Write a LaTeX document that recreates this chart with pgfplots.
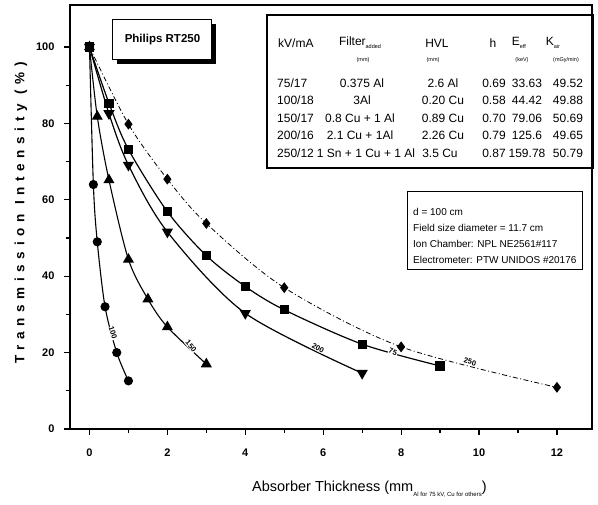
\documentclass[border=0pt]{standalone}
\usepackage{fontspec}
\setmainfont{Liberation Sans}
\usepackage{pgfplots}
\pgfplotsset{compat=1.18}
\newcommand{\fs}[1]{\fontsize{#1}{#1}\selectfont}
\begin{document}
\begin{tikzpicture}
\begin{axis}[
  scale only axis, width=522pt, height=424pt,
  xmin=-0.5, xmax=12.9, ymin=0, ymax=111,
  xtick={0,2,...,12}, ytick={0,20,...,100},
  minor xtick={1,3,...,11}, minor ytick={10,30,...,90},
  tick align=outside, major tick length=6pt, minor tick length=4pt,
  xtick pos=bottom, ytick pos=left,
  axis line style={line width=1.5pt},
  every tick/.style={line width=1.2pt, black},
  ticklabel style={font=\fs{11}\bfseries},
  /pgf/number format/assume math mode=true,
  xticklabel style={yshift=-10pt},
  yticklabel style={xshift=-6pt},
  clip=false,
]
% 100 kV, circles
\addplot[black, line width=1.1pt, smooth, tension=0.5, mark=*, mark size=4pt] coordinates {
 (0,100) (0.1,64) (0.2,49) (0.4,32) (0.7,20) (1.0,12.6)};
% 150 kV, triangles
\addplot[black, line width=1.1pt, smooth, tension=0.5, mark=triangle*, mark size=5.3pt] coordinates {
 (0,100) (0.2,81.8) (0.5,65.2) (1.0,44.4) (1.5,34) (2.0,26.7) (3.0,17)};
% 75 kV, squares
\addplot[black, line width=1.2pt, smooth, tension=0.5, mark=square*, mark size=4pt] coordinates {
 (0,100) (0.5,85.3) (1.0,73.2) (2.0,56.9) (3.0,45.4) (4.0,37.3) (5.0,31.2) (7.0,22.2) (9.0,16.5)};
% 200 kV, triangles down
\addplot[black, line width=1.2pt, smooth, tension=0.5, mark=triangle*, mark size=5.3pt, mark options={rotate=180}] coordinates {
 (0,100) (0.5,82.6) (1.0,69.1) (2.0,51.6) (4.0,30.3) (7.0,14.6)};
% 250 kV, diamonds
\addplot[black, line width=0.8pt, smooth, tension=0.5, dash pattern=on 5pt off 2.5pt on 1pt off 2.5pt, mark=diamond*, mark size=4.8pt, mark options={solid}] coordinates {
 (0,100) (1,79.8) (2,65.4) (3,53.8) (5,37) (8,21.5) (12,10.9)};
\end{axis}
\path (-70pt,-76pt) rectangle (528pt,429pt);
\begin{scope}[shift={(-70pt,429pt)},x=1pt,y=-1pt]
 % curve labels
 \begin{scope}[every node/.style={fill=white,inner sep=0.6pt,font=\fs{7.5}\bfseries}]
 \node[rotate=-72] at (113,333) {100};
 \node[rotate=-50] at (191,346) {150};
 \node[rotate=-28] at (318,348) {200};
 \node[rotate=-20] at (393,352) {75};
 \node[rotate=-14] at (470,362) {250};
 \end{scope}
 % axis labels
 \node[rotate=90,font=\fs{13.5}\bfseries\addfontfeature{LetterSpace=42}] at (21,213) {Transmission Intensity (\%)};
 \node[anchor=base west,font=\fs{14.5},inner sep=0pt] at (252,492) {Absorber Thickness (mm\raisebox{-5pt}{\fs{6}Al for 75 kV, Cu for others})};
 % Philips box
 \fill[black] (117,24) rectangle (216,64);
 \draw[line width=1pt,fill=white] (113,20) rectangle (212,60);
 \node[font=\fs{11.5}\bfseries] at (162.5,40) {Philips RT250};
 % table box
 \draw[line width=1.5pt] (267,15) rectangle (593,168);
 \begin{scope}[every node/.style={font=\fs{12},inner sep=0pt}]
  \node[anchor=west] at (278,43) {kV/mA};
  \node at (360,43) {Filter\raisebox{-3pt}{\fs{5.5}added}};
  \node at (437,43) {HVL};
  \node at (493,43) {h};
  \node at (519,43) {E\raisebox{-3pt}{\fs{5.5}eff}};
  \node at (553,43) {K\raisebox{-3pt}{\fs{5.5}air}};
  \node[font=\fs{5.5}] at (363,60) {(mm)};
  \node[font=\fs{5.5}] at (433,60) {(mm)};
  \node[font=\fs{5.5}] at (522,60) {(keV)};
  \node[font=\fs{5.5}] at (566,60) {(mGy/min)};
  \node[anchor=west] at (277,83) {75/17};
  \node[anchor=west] at (277,100) {100/18};
  \node[anchor=west] at (277,118) {150/17};
  \node[anchor=west] at (277,135) {200/16};
  \node[anchor=west] at (277,153) {250/12};
  \node at (362,83) {0.375 Al};
  \node at (362,100) {3Al};
  \node at (360,118) {0.8 Cu + 1 Al};
  \node at (360,135) {2.1 Cu + 1Al};
  \node at (366,153) {1 Sn + 1 Cu + 1 Al};
  \node at (443,83) {2.6 Al};
  \node at (443,100) {0.20 Cu};
  \node at (443,118) {0.89 Cu};
  \node at (443,135) {2.26 Cu};
  \node at (440,153) {3.5 Cu};
  \node at (494,83) {0.69};
  \node at (494,100) {0.58};
  \node at (494,118) {0.70};
  \node at (494,135) {0.79};
  \node at (494,153) {0.87};
  \node at (527,83) {33.63};
  \node at (527,100) {44.42};
  \node at (527,118) {79.06};
  \node at (527,135) {125.6};
  \node at (527,153) {159.78};
  \node at (568,83) {49.52};
  \node at (568,100) {49.88};
  \node at (568,118) {50.69};
  \node at (568,135) {49.65};
  \node at (568,153) {50.79};
 \end{scope}
 % info box
 \draw[line width=1pt] (407,192) rectangle (582,270);
 \begin{scope}[every node/.style={font=\fs{10},inner sep=0pt,anchor=west}]
  \node at (413,212) {d = 100 cm};
  \node at (413,228) {Field size diameter = 11.7 cm};
  \node at (413,244) {Ion Chamber: NPL NE2561\#117};
  \node at (413,260) {Electrometer: PTW UNIDOS \#20176};
 \end{scope}
\end{scope}
\end{tikzpicture}
\end{document}
